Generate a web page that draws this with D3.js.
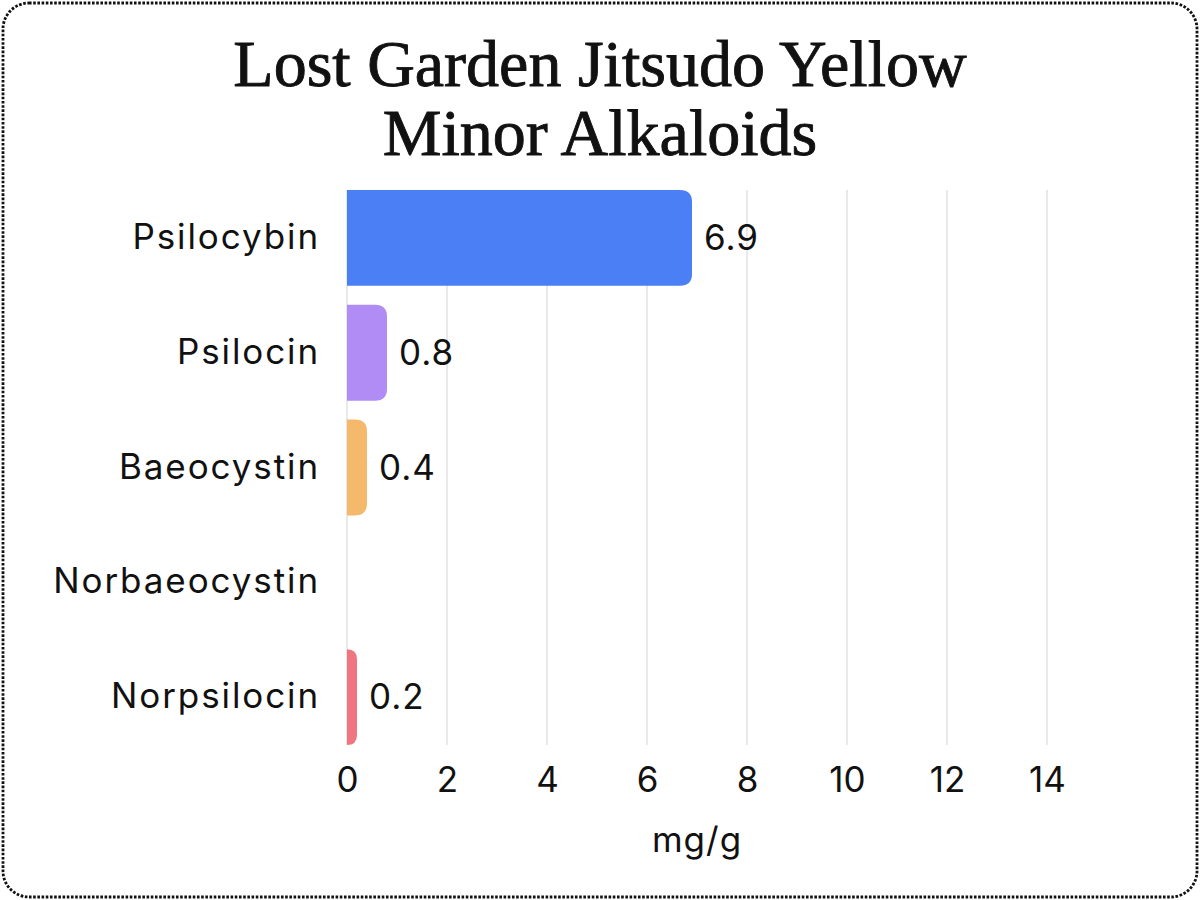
<!DOCTYPE html>
<html>
<head>
<meta charset="utf-8">
<script src="https://cdn.jsdelivr.net/npm/d3@7"></script>
<style>
  body { margin: 0; background: #fff; }
  svg { display: block; }
</style>
</head>
<body>
<svg id="chart" width="1200" height="900"></svg>
<script>
// chart data
const titleLines = ["Lost Garden Jitsudo Yellow", "Minor Alkaloids"];
const compounds = ["Psilocybin", "Psilocin", "Baeocystin", "Norbaeocystin", "Norpsilocin"];
const amounts = [6.9, 0.8, 0.4, 0, 0.2];
const barColors = ["#4a7ff5", "#b08cf4", "#f4b96b", "#7dd3a8", "#ef7681"];
const xTicks = [0, 2, 4, 6, 8, 10, 12, 14];
const xLabel = "mg/g";

const W = 1200, H = 900;
const margin = {top: 190, right: 153, bottom: 155, left: 347};

const svg = d3.select("#chart");

// dotted frame
svg.append("rect")
    .attr("x", 3).attr("y", 3)
    .attr("width", W - 6).attr("height", H - 6)
    .attr("rx", 26)
    .attr("fill", "#fff")
    .attr("stroke", "#111")
    .attr("stroke-width", 2.8)
    .attr("stroke-dasharray", "2.6 1.6");

// title
const title = svg.append("text")
    .attr("text-anchor", "middle")
    .attr("font-family", "'Liberation Serif', 'DejaVu Serif', serif")
    .attr("font-size", 66)
    .attr("fill", "#111")
    .attr("stroke", "#111")
    .attr("stroke-width", 0.9);
titleLines.forEach((t, i) => {
    title.append("tspan").attr("x", W / 2).attr("y", 86 + i * 69).text(t);
});

const x = d3.scaleLinear()
    .domain([0, 14])
    .range([margin.left, W - margin.right]);

const y = d3.scaleBand()
    .domain(compounds)
    .range([margin.top, H - margin.bottom])
    .paddingInner(0.165)
    .paddingOuter(0);

const rows = compounds.map((c, i) => ({name: c, value: amounts[i], color: barColors[i]}));

// grid
svg.append("g")
    .selectAll("line")
    .data(xTicks)
    .join("line")
    .attr("x1", d => x(d)).attr("x2", d => x(d))
    .attr("y1", margin.top).attr("y2", H - margin.bottom)
    .attr("stroke", "#e2e2e2")
    .attr("stroke-width", 1.5);

// bar with rounded right end
const barPath = (d) => {
    const x0 = x(0), x1 = x(d.value);
    const y0 = y(d.name), h = y.bandwidth();
    const r = Math.min(12, x1 - x0, h / 2);
    return `M${x0},${y0} H${x1 - r} Q${x1},${y0} ${x1},${y0 + r} V${y0 + h - r} Q${x1},${y0 + h} ${x1 - r},${y0 + h} H${x0} Z`;
};

const shown = rows.filter(d => d.value > 0);

svg.append("g")
    .selectAll("path")
    .data(shown)
    .join("path")
    .attr("d", barPath)
    .attr("fill", d => d.color);

const sans = "Inter, 'Noto Sans', sans-serif";

svg.append("g")
    .selectAll("text")
    .data(shown)
    .join("text")
    .attr("x", d => x(d.value) + 12)
    .attr("y", d => y(d.name) + y.bandwidth() / 2)
    .attr("dy", "0.35em")
    .attr("font-family", sans)
    .attr("font-size", 35)
    .attr("letter-spacing", 1)
    .attr("fill", "#111")
    .text(d => d3.format(".1f")(d.value));

// y axis
const yAxis = svg.append("g")
    .attr("transform", `translate(${margin.left},0)`)
    .call(d3.axisLeft(y).tickSize(0).tickPadding(27));
yAxis.select(".domain").remove();
yAxis.selectAll("text")
    .attr("font-family", sans)
    .attr("font-size", 35)
    .attr("letter-spacing", 1.9)
    .attr("fill", "#111");

// x axis
const xAxis = svg.append("g")
    .attr("transform", `translate(0,${H - margin.bottom})`)
    .call(d3.axisBottom(x).tickValues(xTicks).tickSize(0).tickPadding(22));
xAxis.select(".domain").remove();
xAxis.selectAll("text")
    .attr("font-family", sans)
    .attr("font-size", 35)
    .attr("fill", "#111");

svg.append("text")
    .attr("x", (x.range()[0] + x.range()[1]) / 2)
    .attr("y", 852)
    .attr("text-anchor", "middle")
    .attr("font-family", sans)
    .attr("font-size", 35)
    .attr("letter-spacing", 1)
    .attr("fill", "#111")
    .text(xLabel);
</script>
</body>
</html>
